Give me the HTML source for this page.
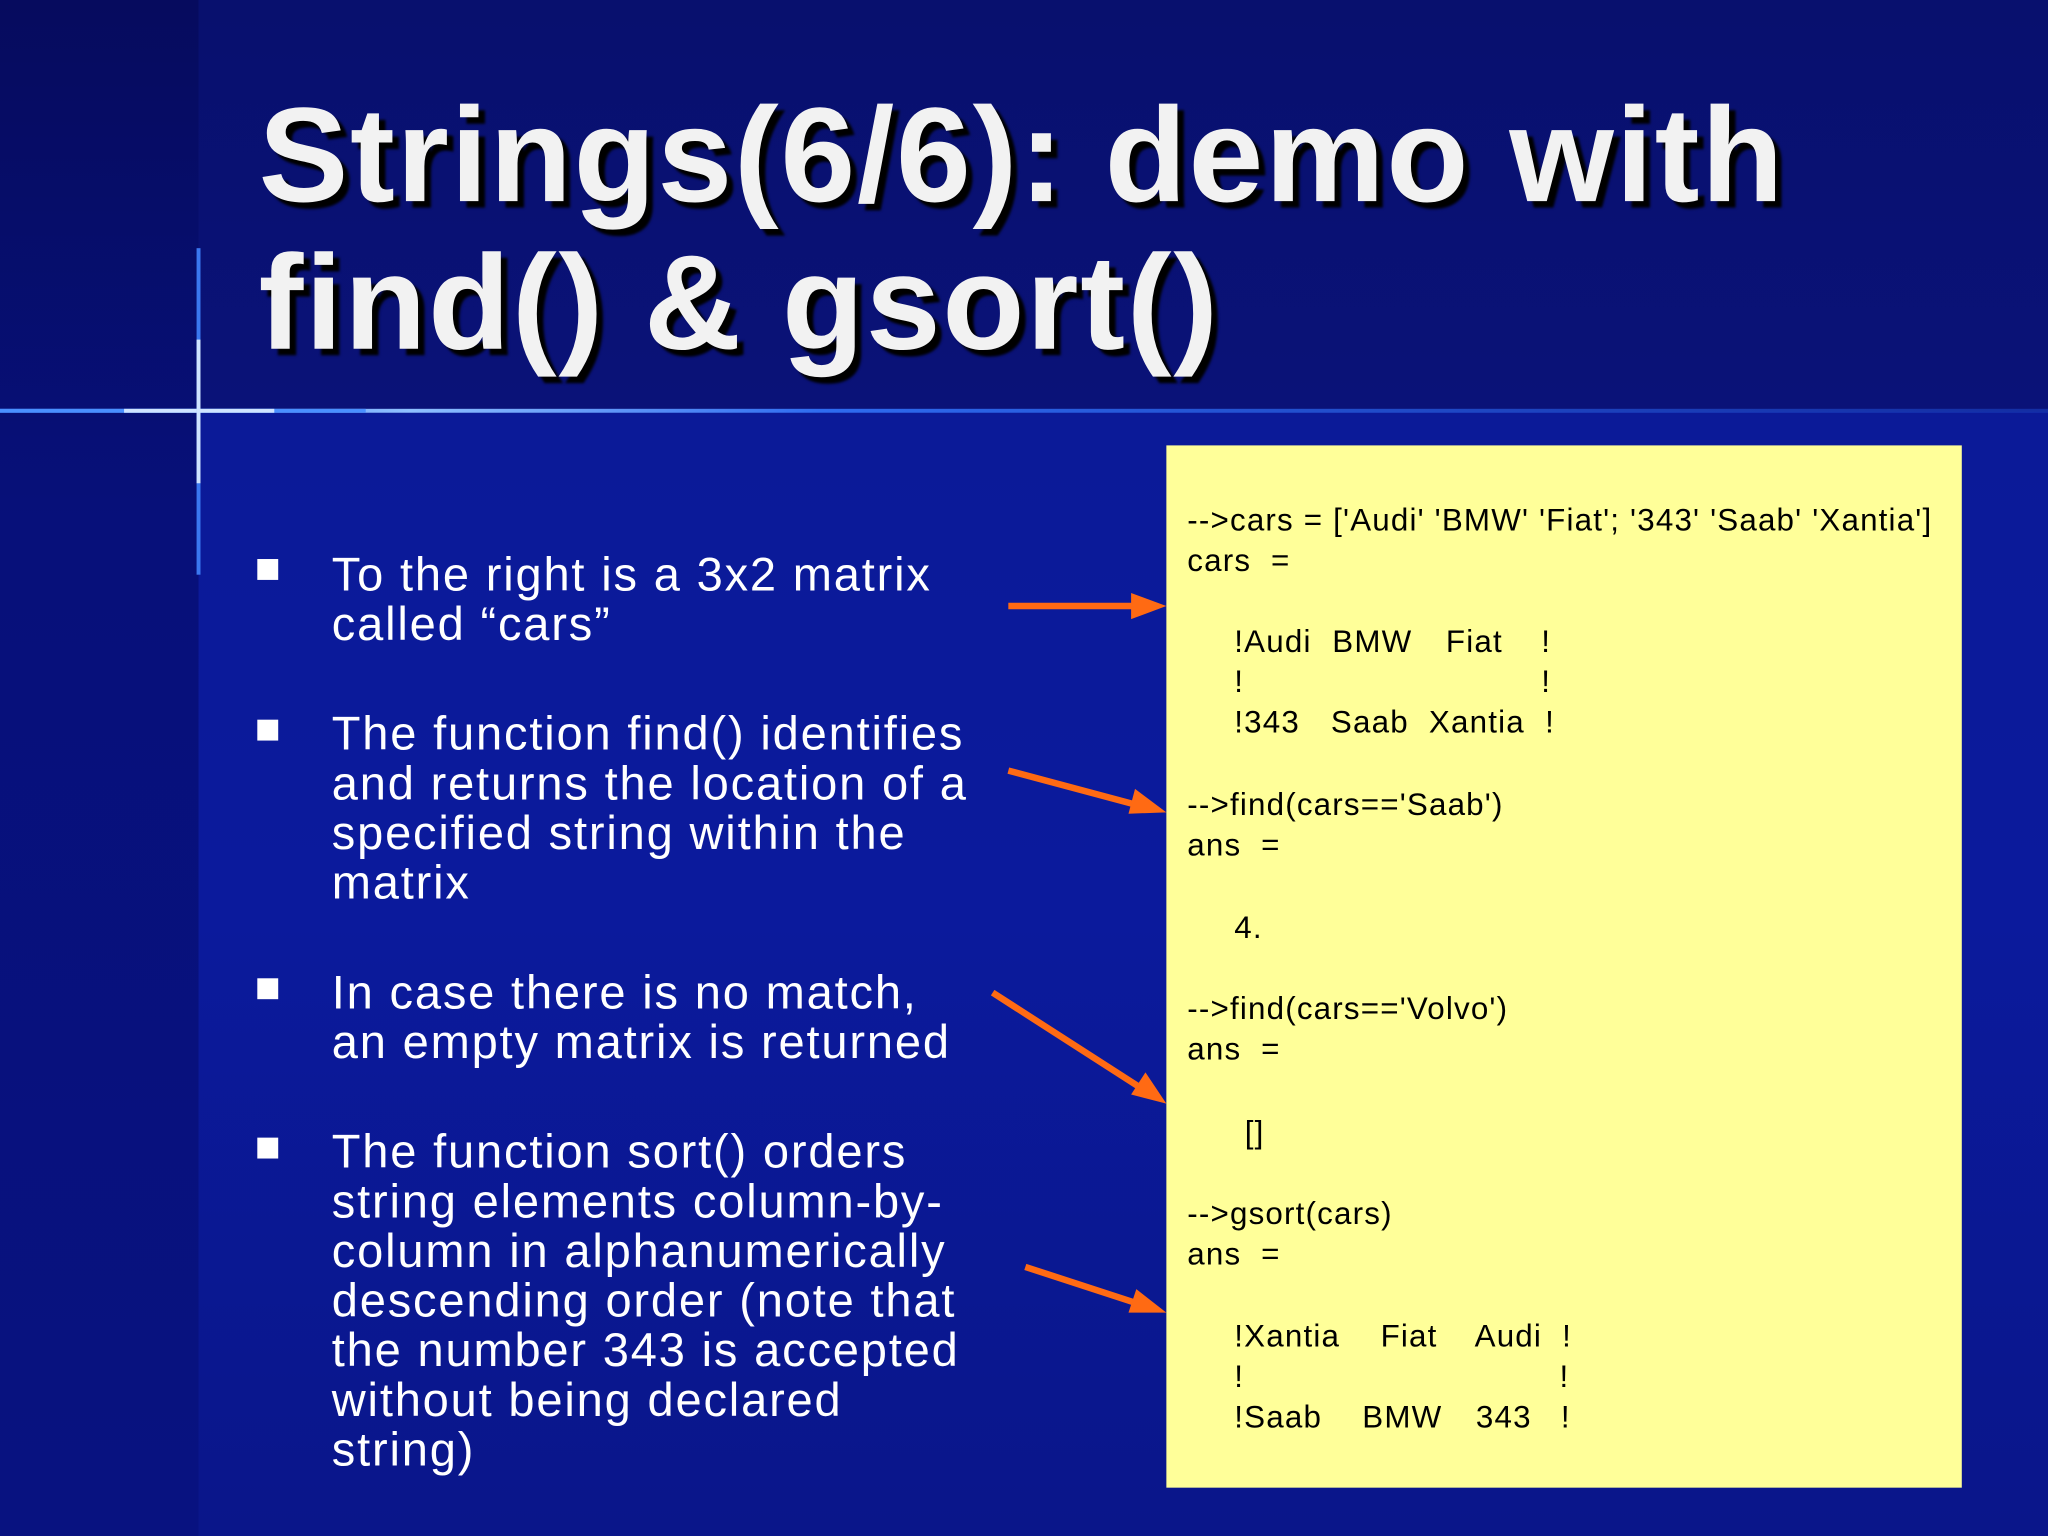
<!DOCTYPE html>
<html><head><meta charset="utf-8">
<style>
html,body{margin:0;padding:0;width:2048px;height:1536px;overflow:hidden;background:#07106a;}
#s{position:absolute;left:0;top:0;width:1568px;height:1176px;transform:scale(1.30612);transform-origin:0 0;
background:linear-gradient(180deg,#08106e 0px,#0a1278 315px,#0b1a98 316px,#0b1a9c 700px,#0a168a 1176px);overflow:hidden;font-family:"Liberation Sans",Arial,sans-serif;}
#left{position:absolute;left:0;top:0;width:152px;height:1176px;background:linear-gradient(180deg,#060b5e,#07107a 400px,#081280);}
#title{position:absolute;left:198px;top:62px;color:#f2f2f2;font-weight:bold;font-size:103px;letter-spacing:1.3px;line-height:113px;text-shadow:5px 5px 2px #000;white-space:nowrap;}
.b{position:absolute;left:254px;color:#fff;font-size:36px;letter-spacing:1.4px;line-height:38px;white-space:nowrap;}
.sq{position:absolute;left:197px;width:16px;height:16px;background:#fff;}
#box{position:absolute;left:893px;top:341px;width:609px;height:798px;background:#ffff99;}
.c{position:absolute;font-size:24px;letter-spacing:0.9px;line-height:31px;color:#000;white-space:pre;}
svg{position:absolute;left:0;top:0;}
</style></head><body>
<div id="s">
<div id="left"></div>
<svg width="1568" height="1176">
<defs>
<linearGradient id="h" x1="0" x2="1"><stop offset="0" stop-color="#3a7cff" stop-opacity="0.9"/><stop offset="0.2" stop-color="#8fc0ff"/><stop offset="0.4" stop-color="#2f6cf0"/><stop offset="1" stop-color="#1a40c0" stop-opacity="0.6"/></linearGradient>
</defs>
<rect x="0" y="313" width="1568" height="3" fill="url(#h)"/>
<rect x="0" y="313" width="280" height="3" fill="#4a90ff"/>
<rect x="95" y="313" width="115" height="3" fill="#cfe4ff"/>
<rect x="150.5" y="190" width="3" height="250" fill="#3a78f0"/>
<rect x="150.5" y="260" width="3" height="110" fill="#cfe4ff"/>
<g stroke="#ff6a13" stroke-width="5" fill="#ff6a13">
<line x1="772" y1="464" x2="872" y2="464"/><polygon points="893,464 866,454 866,474" stroke="none"/>
<line x1="772" y1="590" x2="873" y2="617"/><polygon points="893,622 864,623 869,604" stroke="none"/>
<line x1="760" y1="760" x2="875" y2="834"/><polygon points="893,845 866,838 877,821" stroke="none"/>
<line x1="785" y1="970" x2="874" y2="999"/><polygon points="893,1005 864,1005 870,987" stroke="none"/>
</g>
</svg>
<div id="title">Strings(6/6): demo with<br>find() &amp; gsort()</div>

<div class="sq" style="top:428px"></div>
<div class="b" style="top:421px">To the right is a 3x2 matrix<br>called “cars”</div>
<div class="sq" style="top:551px"></div>
<div class="b" style="top:543px">The function find() identifies<br>and returns the location of a<br>specified string within the<br>matrix</div>
<div class="sq" style="top:749px"></div>
<div class="b" style="top:741px">In case there is no match,<br>an empty matrix is returned</div>
<div class="sq" style="top:871px"></div>
<div class="b" style="top:863px">The function sort() orders<br>string elements column-by-<br>column in alphanumerically<br>descending order (note that<br>the number 343 is accepted<br>without being declared<br>string)</div>

<div id="box"></div>
<div class="c" style="left:909px;top:383px">--&gt;cars = ['Audi' 'BMW' 'Fiat'; '343' 'Saab' 'Xantia']</div>
<div class="c" style="left:909px;top:414px">cars  =</div>
<div class="c" style="left:945px;top:476px">!Audi</div><div class="c" style="left:1020px;top:476px">BMW</div><div class="c" style="left:1107px;top:476px">Fiat</div><div class="c" style="left:1180px;top:476px">!</div>
<div class="c" style="left:945px;top:507px">!</div><div class="c" style="left:1180px;top:507px">!</div>
<div class="c" style="left:945px;top:538px">!343</div><div class="c" style="left:1019px;top:538px">Saab</div><div class="c" style="left:1094px;top:538px">Xantia</div><div class="c" style="left:1183px;top:538px">!</div>
<div class="c" style="left:909px;top:601px">--&gt;find(cars=='Saab')</div>
<div class="c" style="left:909px;top:632px">ans  =</div>
<div class="c" style="left:945px;top:695px">4.</div>
<div class="c" style="left:909px;top:757px">--&gt;find(cars=='Volvo')</div>
<div class="c" style="left:909px;top:788px">ans  =</div>
<div class="c" style="left:953px;top:852px">[]</div>
<div class="c" style="left:909px;top:914px">--&gt;gsort(cars)</div>
<div class="c" style="left:909px;top:945px">ans  =</div>
<div class="c" style="left:945px;top:1008px">!Xantia</div><div class="c" style="left:1057px;top:1008px">Fiat</div><div class="c" style="left:1129px;top:1008px">Audi</div><div class="c" style="left:1196px;top:1008px">!</div>
<div class="c" style="left:945px;top:1039px">!</div><div class="c" style="left:1194px;top:1039px">!</div>
<div class="c" style="left:945px;top:1070px">!Saab</div><div class="c" style="left:1043px;top:1070px">BMW</div><div class="c" style="left:1130px;top:1070px">343</div><div class="c" style="left:1195px;top:1070px">!</div>
</div>
</body></html>
